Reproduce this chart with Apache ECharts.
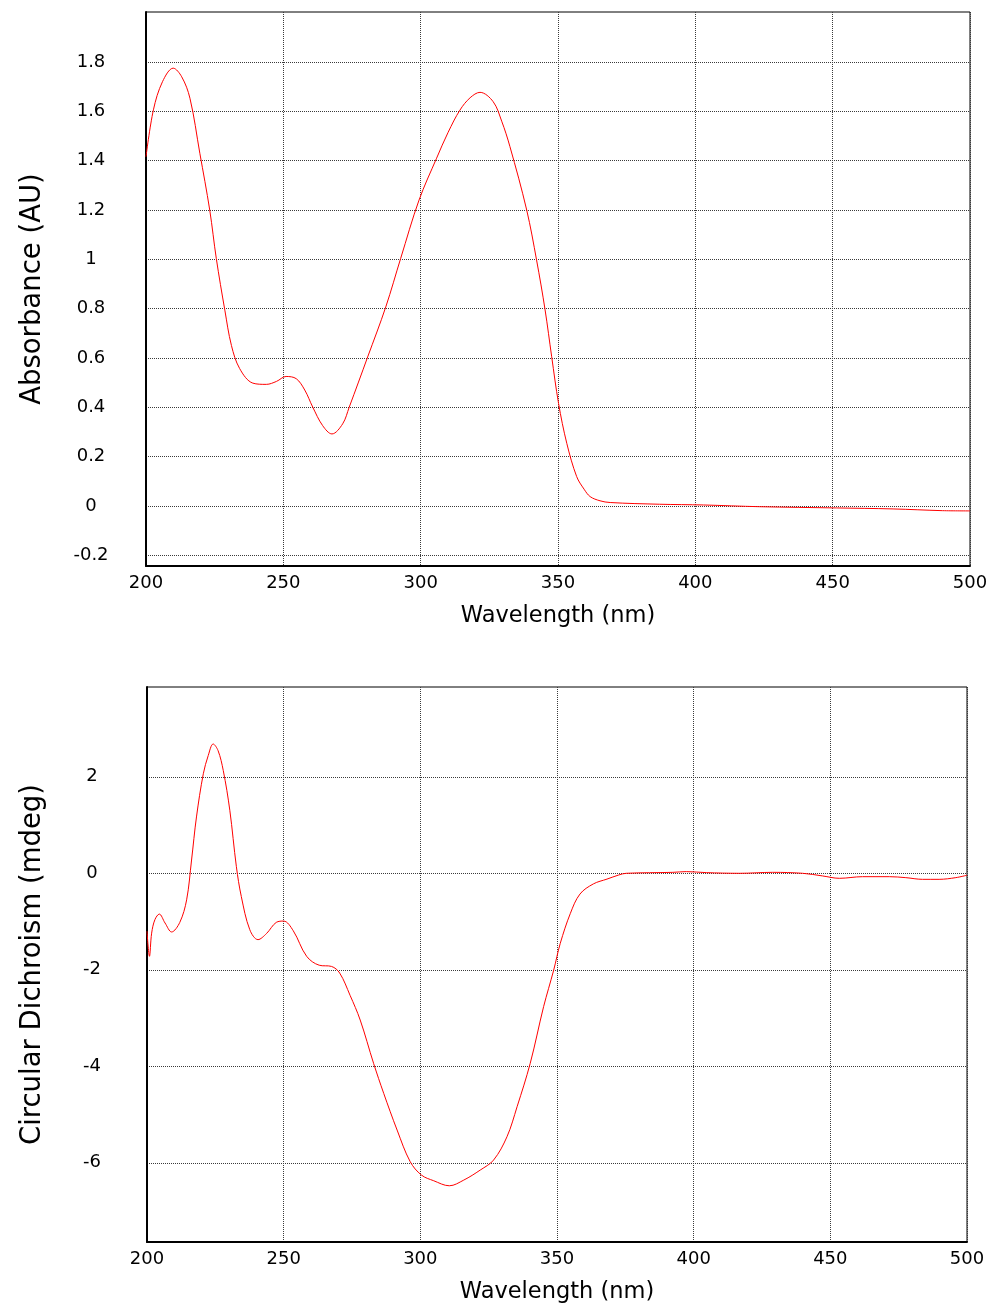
<!DOCTYPE html>
<html>
<head>
<meta charset="utf-8">
<script src="https://cdn.jsdelivr.net/npm/echarts@6/dist/echarts.min.js"></script>
<style>
html,body{margin:0;padding:0;background:#fff;}
#c{width:992px;height:1305px;}
</style>
</head>
<body>
<div id="c"></div>
<script>
// ---- Data ----
const absWavelength = [200, 202.7, 206, 209.9, 213, 216, 219.6, 223.2, 225.6, 228.7, 231.1, 234.1, 238.9, 243.8, 247.5, 251, 254.7, 257.8, 260.7, 264.3, 267.7, 271.6, 274, 280.7, 287.3, 292.7, 299.4, 305.8, 310, 314.3, 318, 321.6, 326.4, 329.5, 332.5, 338.6, 342.2, 345.3, 347.7, 350.2, 353.2, 356.8, 359.5, 361.7, 365.3, 369, 387, 403, 423.5, 451.4, 472, 490, 500];
const absValues = [1.416, 1.606, 1.72, 1.775, 1.74, 1.653, 1.43, 1.2, 1.003, 0.794, 0.651, 0.557, 0.498, 0.493, 0.505, 0.525, 0.516, 0.47, 0.401, 0.326, 0.292, 0.333, 0.401, 0.604, 0.807, 1.003, 1.24, 1.41, 1.515, 1.605, 1.655, 1.677, 1.639, 1.56, 1.457, 1.2, 0.997, 0.795, 0.605, 0.416, 0.254, 0.119, 0.068, 0.038, 0.021, 0.014, 0.007, 0.004, -0.003, -0.008, -0.012, -0.019, -0.02];

const cdWavelength = [200, 200.9, 201.7, 202.9, 204.5, 206.6, 209, 212, 214.5, 216.3, 218.1, 220.6, 222.4, 224.2, 226, 227.9, 230.3, 232.7, 234.5, 237.6, 240.6, 243.7, 247.3, 250, 253.5, 258.4, 263, 267.5, 270.5, 274.3, 278, 282.9, 286.6, 291.5, 296.3, 300.4, 304.9, 310.6, 315.9, 321.9, 326.8, 331.7, 335.4, 340.2, 345.1, 348.8, 351.2, 354.9, 358.4, 363.3, 368.3, 372.6, 375.3, 392.4, 397.3, 404.6, 416.7, 428.9, 439.9, 447.2, 453.3, 461.8, 471.6, 477.6, 483.7, 489.8, 495.9, 500];
const cdValues = [-1.2, -1.72, -1.24, -0.96, -0.845, -1.03, -1.216, -1.017, -0.55, 0.275, 1.168, 2.062, 2.44, 2.68, 2.543, 2.131, 1.306, 0.137, -0.481, -1.168, -1.375, -1.25, -1.017, -0.99, -1.19, -1.72, -1.905, -1.93, -2.068, -2.53, -3.041, -3.939, -4.561, -5.321, -5.978, -6.254, -6.372, -6.476, -6.358, -6.151, -5.943, -5.46, -4.838, -3.939, -2.764, -2.004, -1.451, -0.829, -0.43, -0.22, -0.12, -0.035, 0, 0.02, 0.035, 0.014, 0, 0.02, 0, -0.055, -0.104, -0.07, -0.07, -0.09, -0.125, -0.125, -0.09, -0.04];

const xTicks = {min: 200, max: 500, interval: 50};
const absTicks = {min: -0.2, max: 1.8, interval: 0.2};
const cdTicks = {min: -6, max: 2, interval: 2};
const xName = 'Wavelength (nm)';
const absName = 'Absorbance (AU)';
const cdName = 'Circular Dichroism (mdeg)';

// ---- Chart ----
const FONT = 'DejaVu Sans';
const grid = {color: '#3a3a3a', width: 1, type: [1, 1]};

function outerX(gridIndex) {
  return {
    type: 'value', gridIndex, min: xTicks.min, max: xTicks.max, interval: xTicks.interval,
    axisLine: {show: true, onZero: false, lineStyle: {color: '#000', width: 2}},
    axisTick: {show: false},
    axisLabel: {color: '#000', fontFamily: FONT, fontSize: 18, margin: 8},
    splitLine: {show: true, lineStyle: grid},
    name: xName, nameLocation: 'middle', nameGap: 39,
    nameTextStyle: {color: '#000', fontFamily: FONT, fontSize: 22.5}
  };
}
function innerX(gridIndex) {
  return {type: 'value', gridIndex, min: xTicks.min, max: xTicks.max, show: false};
}
function outerY(gridIndex, name, gap) {
  return {
    type: 'value', gridIndex, min: 0, max: 1,
    axisLine: {show: true, onZero: false, lineStyle: {color: '#000', width: 2}},
    axisTick: {show: false}, axisLabel: {show: false}, splitLine: {show: false},
    name, nameLocation: 'middle', nameGap: gap,
    nameTextStyle: {color: '#000', fontFamily: FONT, fontSize: 27.5}
  };
}
function innerY(gridIndex, t) {
  return {
    type: 'value', gridIndex, min: t.min, max: t.max, interval: t.interval,
    axisLine: {show: false}, axisTick: {show: false},
    axisLabel: {color: '#000', fontFamily: FONT, fontSize: 18, margin: 55, align: 'center'},
    splitLine: {show: true, lineStyle: grid}
  };
}

const option = {
  animation: false,
  backgroundColor: '#fff',
  grid: [
    {left: 146, top: 12, width: 824, height: 554, show: true, borderColor: '#000', borderWidth: 1, backgroundColor: 'transparent'},
    {left: 146, top: 62, width: 824, height: 493.3},
    {left: 147, top: 687, width: 820, height: 556, show: true, borderColor: '#000', borderWidth: 1, backgroundColor: 'transparent'},
    {left: 147, top: 776.8, width: 820, height: 386}
  ],
  xAxis: [outerX(0), innerX(1), outerX(2), innerX(3)],
  yAxis: [outerY(0, absName, 99), innerY(1, absTicks), outerY(2, cdName, 100), innerY(3, cdTicks)],
  series: [
    {
      type: 'line', xAxisIndex: 1, yAxisIndex: 1, showSymbol: false, smooth: 0.35, clip: false,
      lineStyle: {color: '#ff0000', width: 1},
      data: absWavelength.map((w, i) => [w, absValues[i]])
    },
    {
      type: 'line', xAxisIndex: 3, yAxisIndex: 3, showSymbol: false, smooth: 0.35, clip: false,
      lineStyle: {color: '#ff0000', width: 1},
      data: cdWavelength.map((w, i) => [w, cdValues[i]])
    }
  ]
};
const chart = echarts.init(document.getElementById('c'), null, {renderer: 'canvas'});
chart.setOption(option);
</script>
</body>
</html>
